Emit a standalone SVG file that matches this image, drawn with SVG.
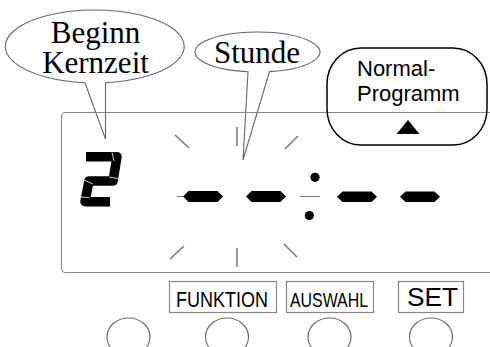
<svg xmlns="http://www.w3.org/2000/svg" width="490" height="347" viewBox="0 0 490 347">
<style>
.bub{fill:#fff;stroke:#666;stroke-width:1.1}
.ser{font-family:"Liberation Serif","Times New Roman",serif;font-size:31px;fill:#000;text-anchor:middle}
.sans{font-family:"Liberation Sans",Arial,sans-serif;fill:#000}
.ray{stroke:#777;stroke-width:1.5;fill:none}
.thin{stroke:#777;stroke-width:1;fill:none}
.seg{fill:#000}
.sep{stroke:#c8c8c8;stroke-width:1}
.box{fill:none;stroke:#888;stroke-width:1.2}
.btn{fill:#fff;stroke:#666;stroke-width:1.2}
</style>
<g id="bubble-beginn">
<path class="bub" d="M85,82.75 A89.5 36.5 0 1 1 105.5,82.7 L105.5,139 Z"/>
<text class="ser" x="95.5" y="42.5" font-size="30">Beginn</text>
<text class="ser" x="95.5" y="73" font-size="30">Kernzeit</text>
</g>
<g id="bubble-stunde">
<path class="bub" d="M248,71.77 A62.5 20 0 1 1 269.5,71.63 L243,160 Z"/>
<text class="ser" x="257" y="63">Stunde</text>
</g>
<g id="display">
<rect x="61.5" y="112.5" width="440" height="160" rx="4" fill="none" stroke="#888" stroke-width="1.1"/>
</g>
<g id="normal-programm">
<rect x="327" y="48" width="160" height="97" rx="34" ry="36" fill="none" stroke="#000" stroke-width="1.5"/>
<text class="sans" x="357" y="76" font-size="22">Normal-</text>
<text class="sans" x="357" y="101" font-size="22">Programm</text>
<polygon points="408,120 419.5,134 396.5,134" fill="#000"/>
</g>
<g id="digit-2">
<path d="M86,156.7 L117,156.7 L113,181 L89,181 L85,201.7 L110,201.7" fill="none" stroke="#000" stroke-width="9.5" stroke-linejoin="round"/>
<line class="sep" x1="112" y1="152.5" x2="114" y2="161"/>
<line class="sep" x1="109" y1="177" x2="118" y2="178.5"/>
<line class="sep" x1="84" y1="180" x2="93" y2="184"/>
<line class="sep" x1="80.5" y1="197" x2="89.5" y2="197.5"/>
</g>
<g id="time">
<line class="thin" x1="177" y1="196.5" x2="183" y2="196.5"/>
<polygon class="seg" points="183,196.5 188.5,191 217.5,191 223,196.5 217.5,202 188.5,202"/>
<polygon class="seg" points="246,196.5 251.5,191 280.5,191 286,196.5 280.5,202 251.5,202"/>
<circle cx="315" cy="177.3" r="4.6" fill="#000"/>
<circle cx="309.3" cy="215.5" r="4.6" fill="#000"/>
<line class="thin" x1="300" y1="196.5" x2="320" y2="196.5"/>
<polygon class="seg" points="337,196.7 342.5,191.5 371.5,191.5 377,196.7 371.5,202 342.5,202"/>
<polygon class="seg" points="400,196.7 405.5,191.5 434.5,191.5 440,196.7 434.5,202 405.5,202"/>
</g>
<g id="blink">
<line class="ray" x1="175" y1="135" x2="189" y2="148"/>
<line class="ray" x1="237" y1="127" x2="237" y2="146"/>
<line class="ray" x1="298" y1="136" x2="285" y2="149"/>
<line class="ray" x1="184" y1="246" x2="170" y2="259"/>
<line class="ray" x1="237" y1="248" x2="237" y2="267"/>
<line class="ray" x1="284" y1="244" x2="297" y2="257"/>
</g>
<g id="btn-funktion">
<rect class="box" x="169.5" y="281.5" width="107" height="31"/>
<text class="sans" x="176" y="306.7" font-size="22" textLength="92" lengthAdjust="spacingAndGlyphs">FUNKTION</text>
</g>
<g id="btn-auswahl">
<rect class="box" x="286.5" y="281.5" width="87" height="31"/>
<text class="sans" x="290" y="307.2" font-size="20.5" textLength="78" lengthAdjust="spacingAndGlyphs">AUSWAHL</text>
</g>
<g id="btn-set">
<rect class="box" x="398.5" y="281.5" width="65" height="31"/>
<text class="sans" x="407" y="305.7" font-size="26.5" textLength="51" lengthAdjust="spacingAndGlyphs">SET</text>
</g>
<g id="keys">
<ellipse class="btn" cx="128.5" cy="337" rx="21.5" ry="19"/>
<ellipse class="btn" cx="227" cy="337" rx="21.5" ry="19"/>
<ellipse class="btn" cx="329.5" cy="337" rx="21.5" ry="19"/>
<ellipse class="btn" cx="431" cy="337" rx="21.5" ry="19"/>
</g>
</svg>
